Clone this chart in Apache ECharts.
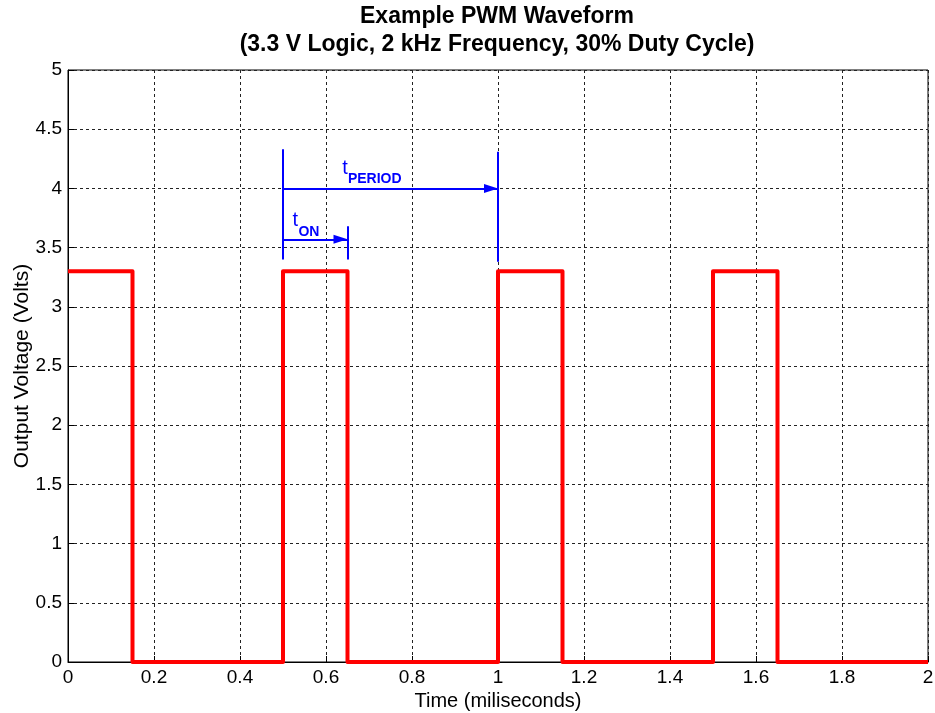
<!DOCTYPE html>
<html><head><meta charset="utf-8">
<script src="https://cdn.jsdelivr.net/npm/echarts@6/dist/echarts.min.js"></script>
<style>html,body{margin:0;padding:0;background:#fff}#c{width:935px;height:713px}</style>
</head><body><div id="c"></div><script>
// PWM waveform (time in ms, voltage in V)
const timeMs  = [0, 0.15, 0.15, 0.5, 0.5, 0.65, 0.65, 1.0, 1.0, 1.15, 1.15, 1.5, 1.5, 1.65, 1.65, 2.0];
const voltage = [3.3, 3.3, 0, 0, 3.3, 3.3, 0, 0, 3.3, 3.3, 0, 0, 3.3, 3.3, 0, 0];
const xTickLabels = ['0','0.2','0.4','0.6','0.8','1','1.2','1.4','1.6','1.8','2'];
const yTickLabels = ['0','0.5','1','1.5','2','2.5','3','3.5','4','4.5','5'];
// annotation geometry in data units: [x1, y1, x2, y2]
const markerLines = [[0.5, 3.40, 0.5, 4.33], [1.0, 3.38, 1.0, 4.31], [0.65, 3.40, 0.65, 3.68]];
const arrowLines  = [[0.5, 4.0, 1.0, 4.0], [0.5, 3.57, 0.65, 3.57]];
// annotation text: [text, x, y]
const labelMain = [['t', 0.638, 4.17], ['t', 0.522, 3.73]];
const labelSub  = [['PERIOD', 0.651, 4.08], ['ON', 0.536, 3.63]];

const FONT = 'Liberation Sans, Arial, Helvetica, sans-serif';
const BLUE = '#0000ff';
const chart = echarts.init(document.getElementById('c'), null, {renderer: 'canvas'});

const fmt = (list, step) => v => list[Math.round(v / step)] ?? '';

const textData = labelMain.map(d => ({
  value: [d[1], d[2]],
  label: {formatter: d[0], fontSize: 20, fontWeight: 'normal'}
})).concat(labelSub.map(d => ({
  value: [d[1], d[2]],
  label: {formatter: d[0], fontSize: 14, fontWeight: 'bold'}
})));

const mlData = markerLines.map(l => [{coord: [l[0], l[1]], symbol: 'none'}, {coord: [l[2], l[3]], symbol: 'none'}])
  .concat(arrowLines.map(l => [{coord: [l[0], l[1]], symbol: 'none'}, {coord: [l[2], l[3]], symbol: 'triangle', symbolSize: [9, 14], symbolOffset: [0, 7]}]));

chart.setOption({
  animation: false,
  backgroundColor: '#fff',
  grid: {left: 68, right: 7, top: 70, bottom: 51, show: true, borderColor: '#000', borderWidth: 1,
         containLabel: false, outerBoundsMode: 'none'},
  graphic: [
    {type: 'text', x: 497, y: 17, style: {text: 'Example PWM Waveform', font: 'bold 23px ' + FONT, fill: '#000', align: 'center', verticalAlign: 'middle'}},
    {type: 'text', x: 497, y: 45, style: {text: '(3.3 V Logic, 2 kHz Frequency, 30% Duty Cycle)', font: 'bold 23px ' + FONT, fill: '#000', align: 'center', verticalAlign: 'middle'}}
  ],
  xAxis: {
    type: 'value', min: 0, max: 2, interval: 0.2,
    name: 'Time (miliseconds)', nameLocation: 'middle', nameGap: 29, nameMoveOverlap: false,
    nameTextStyle: {fontFamily: FONT, fontSize: 20, color: '#000'},
    axisLine: {show: true, lineStyle: {color: '#000', width: 1}},
    axisTick: {show: true, inside: true, length: 6, lineStyle: {color: '#000'}},
    axisLabel: {fontFamily: FONT, fontSize: 19, color: '#000', margin: 6, formatter: fmt(xTickLabels, 0.2)},
    splitLine: {show: true, lineStyle: {color: '#222', width: 1, type: [3, 3]}}
  },
  yAxis: {
    type: 'value', min: 0, max: 5, interval: 0.5,
    name: 'Output Voltage (Volts)', nameLocation: 'middle', nameGap: 35, nameMoveOverlap: false,
    nameTextStyle: {fontFamily: FONT, fontSize: 21, color: '#000'},
    axisLine: {show: true, lineStyle: {color: '#000', width: 1}},
    axisTick: {show: true, inside: true, length: 6, lineStyle: {color: '#000'}},
    axisLabel: {fontFamily: FONT, fontSize: 19, color: '#000', margin: 6, formatter: fmt(yTickLabels, 0.5)},
    splitLine: {show: true, lineStyle: {color: '#222', width: 1, type: [3, 3]}}
  },
  series: [
    {
      type: 'line', name: 'PWM',
      data: timeMs.map((t, i) => [t, voltage[i]]),
      showSymbol: false, symbol: 'none', clip: false,
      lineStyle: {color: '#ff0000', width: 4, join: 'round'},
      itemStyle: {color: '#ff0000'},
      z: 3
    },
    {
      type: 'scatter', name: 'annotations',
      symbolSize: 0, silent: true,
      itemStyle: {color: BLUE, opacity: 1},
      data: textData,
      label: {show: true, position: 'right', distance: 0, color: BLUE, fontFamily: FONT},
      markLine: {
        silent: true, animation: false,
        label: {show: false},
        lineStyle: {color: BLUE, width: 2, type: 'solid', opacity: 1},
        emphasis: {disabled: true},
        data: mlData
      },
      z: 4
    }
  ]
});
</script></body></html>
